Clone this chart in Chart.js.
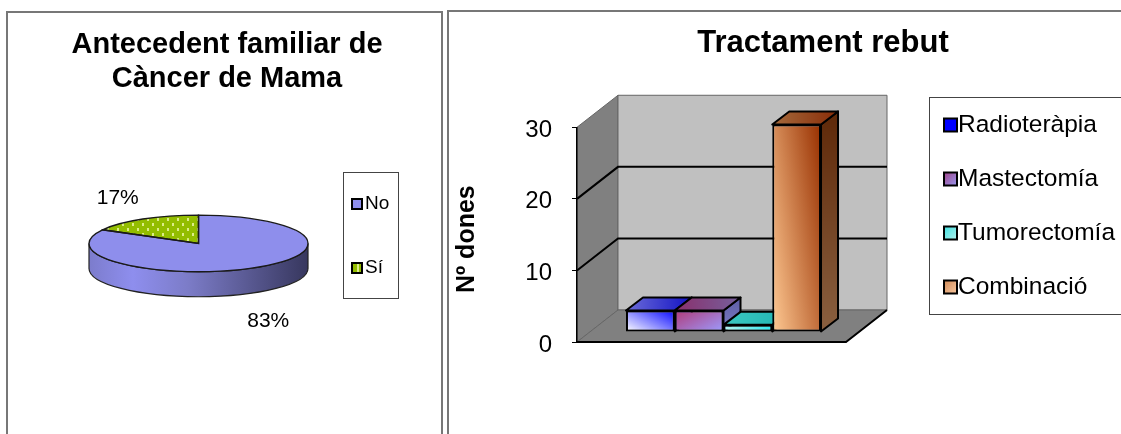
<!DOCTYPE html>
<html>
<head>
<meta charset="utf-8">
<title>Antecedent familiar i tractament rebut</title>
<script src="https://cdn.jsdelivr.net/npm/chart.js@4/dist/chart.umd.min.js"></script>
<style>
  html, body { margin: 0; padding: 0; background: #fff; overflow: hidden; }
  body { width: 1121px; height: 434px; position: relative; }
  .panel { position: absolute; box-sizing: border-box; border: 2px solid #777; border-bottom: 0; }
  #panelPie { left: 6px; top: 11px; width: 437px; height: 423px; }
  #panelBar { left: 447px; top: 10px; width: 700px; height: 424px; }
  canvas { position: absolute; top: 0; }
  #pieChart { left: 0; }
  #barChart { left: 447px; }
</style>
</head>
<body>
<div class="panel" id="panelPie"></div>
<div class="panel" id="panelBar"></div>
<canvas id="pieChart" width="445" height="434"></canvas>
<canvas id="barChart" width="674" height="434"></canvas>

<script>
// Values
const pieTitle = ['Antecedent familiar de', 'Càncer de Mama'];
const pieCategories = ['No', 'Sí'];
const pieValues = [83, 17];

const barTitle = 'Tractament rebut';
const barAxisTitle = 'Nº dones';
const barCategories = ['Dones'];
const barSeries = ['Radioteràpia', 'Mastectomía', 'Tumorectomía', 'Combinació'];
const barValues = [3, 3, 1, 29];
const barTicks = [0, 10, 20, 30];

const FONT = '"Liberation Sans", Arial, sans-serif';

// Pie look
const PIE_SQUASH = 0.2585;
const PIE_DEPTH = 25;
const PIE_LABEL_SHIFT = [[14, 53], [-25, -21]];

// Bar chart "3D" look
const WALL = { dx: 41, dy: -32 };
const BAR_SHIFT = { dx: 12, dy: -10 };
const BAR_DEPTH = { dx: 17, dy: -13 };

// gradient: from, to, and how much of the change runs along x (the rest along y)
const barFront = [
  { from: '#ffffff', to: '#0a0aff', ax: 0.55, ay: 0.45 },
  { from: '#b03a78', to: '#9c9cff', ax: 0.55, ay: -0.45 },
  { from: '#b8f4ee', to: '#30eaf2', ax: 1, ay: 0 },
  { from: '#ffca94', to: '#983000', ax: 0.62, ay: 0.38 }
];
const barTop = [['#6c6cd8', '#1212c4'], ['#8a2f6c', '#76609c'], ['#3cc8c0', '#20b4b4'], ['#a56a3c', '#882c08']];
const barSide = [['#5858b0', '#7878c0'], ['#5c5ca4', '#7c7cc4'], ['#1c9ca0', '#2cb0b0'], ['#5e2808', '#8a6040']];
const legendFill = [['#0000ff', '#0000ff'], ['#a04488', '#9898f0'], ['#40e0e0', '#b0f0ec'], ['#d08a58', '#f8c8a0']];

// Light dashes on the green slice, stretched because the pie is squashed afterwards
function makeDotPattern() {
  const c = document.createElement('canvas');
  c.width = 10;
  c.height = 40;
  const g = c.getContext('2d');
  g.fillStyle = '#93bd00';
  g.fillRect(0, 0, 10, 40);
  g.fillStyle = '#dcec88';
  g.fillRect(2, 4, 2, 12);
  g.fillRect(7, 24, 2, 12);
  return g.createPattern(c, 'repeat');
}

function placeTitle(chart, centerX) {
  const t = chart.titleBlock;
  t.left = centerX - 300;
  t.right = centerX + 300;
}

function drawLegendBox(ctx, box, names, font, markerSize, markerX, textX, centers, paint) {
  ctx.save();
  ctx.fillStyle = '#fff';
  ctx.fillRect(box.x, box.y, box.w, box.h);
  ctx.strokeStyle = '#444';
  ctx.lineWidth = 1;
  ctx.strokeRect(box.x + 0.5, box.y + 0.5, box.w, box.h);
  ctx.font = font;
  ctx.textBaseline = 'middle';
  names.forEach((name, i) => {
    const my = centers[i] - markerSize / 2;
    ctx.fillStyle = paint(i, markerX, my, markerSize);
    ctx.fillRect(markerX, my, markerSize, markerSize);
    ctx.strokeStyle = '#000';
    ctx.lineWidth = 2;
    ctx.strokeRect(markerX, my, markerSize, markerSize);
    ctx.fillStyle = '#000';
    ctx.fillText(name, textX, centers[i]);
  });
  ctx.restore();
}

// Pie: draw the library's arcs squashed into an ellipse, on top of a side wall
const flatPiePlugin = {
  id: 'flatPie',
  afterLayout(chart) {
    placeTitle(chart, 227);
  },
  beforeDatasetsDraw(chart) {
    const ctx = chart.ctx;
    const arc = chart.getDatasetMeta(0).data[0];
    const cx = arc.x, cy = arc.y, rx = arc.outerRadius, ry = rx * PIE_SQUASH;
    ctx.save();
    const side = ctx.createLinearGradient(cx - rx, 0, cx + rx, 0);
    side.addColorStop(0, '#7c7ccc');
    side.addColorStop(0.2, '#8e8eee');
    side.addColorStop(0.45, '#7c7cc8');
    side.addColorStop(1, '#37375e');
    ctx.beginPath();
    ctx.ellipse(cx, cy, rx, ry, 0, 0, Math.PI);
    ctx.ellipse(cx, cy + PIE_DEPTH, rx, ry, 0, Math.PI, 0, true);
    ctx.closePath();
    ctx.fillStyle = side;
    ctx.fill();
    ctx.strokeStyle = '#222';
    ctx.lineWidth = 1.2;
    ctx.stroke();
    ctx.translate(cx, cy);
    ctx.scale(1, PIE_SQUASH);
    ctx.translate(-cx, -cy);
  },
  afterDatasetsDraw(chart) {
    const ctx = chart.ctx;
    ctx.restore();
    ctx.save();
    ctx.strokeStyle = '#1a1a1a';
    ctx.lineWidth = 1.4;
    ctx.fillStyle = '#000';
    ctx.font = '21px ' + FONT;
    ctx.textAlign = 'center';
    ctx.textBaseline = 'middle';
    chart.getDatasetMeta(0).data.forEach((arc, i) => {
      const rx = arc.outerRadius, ry = rx * PIE_SQUASH;
      ctx.beginPath();
      ctx.moveTo(arc.x, arc.y);
      ctx.ellipse(arc.x, arc.y, rx, ry, 0, arc.startAngle, arc.endAngle);
      ctx.closePath();
      ctx.stroke();
      const mid = (arc.startAngle + arc.endAngle) / 2;
      ctx.fillText(pieValues[i] + '%',
        arc.x + Math.cos(mid) * rx + PIE_LABEL_SHIFT[i][0],
        arc.y + Math.sin(mid) * ry + PIE_LABEL_SHIFT[i][1]);
    });
    ctx.restore();
    drawLegendBox(ctx, { x: 343, y: 172, w: 55, h: 126 }, pieCategories, '19px ' + FONT, 10, 352,
      365, [204, 268], i => chart.data.datasets[0].backgroundColor[i]);
  }
};

new Chart(document.getElementById('pieChart'), {
  type: 'pie',
  data: {
    labels: pieCategories,
    datasets: [{
      data: pieValues,
      backgroundColor: ['#8e8eec', makeDotPattern()],
      borderWidth: 0
    }]
  },
  plugins: [flatPiePlugin],
  options: {
    responsive: false,
    animation: false,
    layout: { padding: { left: 89, right: 137, top: 0, bottom: 81 } },
    plugins: {
      legend: { display: false },
      tooltip: { enabled: false },
      title: {
        display: true,
        text: pieTitle,
        color: '#000',
        font: { family: FONT, size: 29, weight: 'bold', lineHeight: 1.17 },
        padding: { top: 28, bottom: 38 }
      }
    }
  }
});

function linear(ctx, x0, y0, x1, y1, colors) {
  const g = ctx.createLinearGradient(x0, y0, x1, y1);
  g.addColorStop(0, colors[0]);
  g.addColorStop(1, colors[1]);
  return g;
}

// Gradient over a bar front; ax and ay share the colour change between width and height
function frontGradient(ctx, el, spec) {
  const left = el.x - el.width / 2;
  const h = Math.abs(el.base - el.y);
  const ux = spec.ax / el.width;
  const uy = spec.ay / h;
  const len2 = ux * ux + uy * uy;
  const x0 = left;
  const y0 = spec.ay >= 0 ? el.base : el.y;
  const g = ctx.createLinearGradient(x0, y0, x0 + ux / len2, y0 - Math.abs(uy) / len2 * (spec.ay >= 0 ? 1 : -1));
  g.addColorStop(0, spec.from);
  g.addColorStop(1, spec.to);
  return g;
}

function face(ctx, points, fill) {
  ctx.beginPath();
  points.forEach((p, i) => (i ? ctx.lineTo(p[0], p[1]) : ctx.moveTo(p[0], p[1])));
  ctx.closePath();
  ctx.fillStyle = fill;
  ctx.fill();
  ctx.stroke();
}

// Walls, floor and grid of the 3D box, all taken from the scales
const boxBackdropPlugin = {
  id: 'boxBackdrop',
  afterLayout(chart) {
    placeTitle(chart, 376);
    // the axis title sits a little below the middle of the axis
    const y = chart.scales.y;
    const drawTitle = y.drawTitle;
    y.drawTitle = function () {
      this.top += 9;
      drawTitle.call(this);
      this.top -= 9;
    };
  },
  beforeDraw(chart) {
    const ctx = chart.ctx;
    const { left, right } = chart.chartArea;
    const y = chart.scales.y;
    const top = y.getPixelForValue(y.max);
    const zero = y.getPixelForValue(y.min);
    const d = WALL;
    ctx.save();
    ctx.lineWidth = 1;
    ctx.strokeStyle = '#666';
    face(ctx, [[left, top], [left + d.dx, top + d.dy], [left + d.dx, zero + d.dy], [left, zero]], '#808080');
    face(ctx, [[left + d.dx, top + d.dy], [right + d.dx, top + d.dy], [right + d.dx, zero + d.dy], [left + d.dx, zero + d.dy]], '#c0c0c0');
    face(ctx, [[left, zero], [left + d.dx, zero + d.dy], [right + d.dx, zero + d.dy], [right, zero]], '#808080');
    ctx.strokeStyle = '#000';
    ctx.lineWidth = 2;
    barTicks.forEach(tick => {
      if (tick === y.min || tick === y.max) return;
      const py = y.getPixelForValue(tick);
      ctx.beginPath();
      ctx.moveTo(left, py);
      ctx.lineTo(left + d.dx, py + d.dy);
      ctx.lineTo(right + d.dx, py + d.dy);
      ctx.stroke();
    });
    ctx.beginPath();
    ctx.moveTo(left, zero);
    ctx.lineTo(right, zero);
    ctx.lineTo(right + d.dx, zero + d.dy);
    ctx.stroke();
    ctx.restore();
  },
  beforeDatasetsDraw(chart) {
    const ctx = chart.ctx;
    ctx.save();
    ctx.translate(BAR_SHIFT.dx, BAR_SHIFT.dy);
    ctx.strokeStyle = '#000';
    ctx.lineWidth = 2;
    ctx.lineJoin = 'round';
    const d = BAR_DEPTH;
    barSeries.forEach((name, i) => {
      const el = chart.getDatasetMeta(i).data[0];
      const l = el.x - el.width / 2, r = el.x + el.width / 2;
      face(ctx, [[r, el.y], [r + d.dx, el.y + d.dy], [r + d.dx, el.base + d.dy], [r, el.base]],
        linear(ctx, 0, el.y + d.dy, 0, el.base, barSide[i]));
      face(ctx, [[l, el.y], [l + d.dx, el.y + d.dy], [r + d.dx, el.y + d.dy], [r, el.y]],
        linear(ctx, l, 0, r + d.dx, 0, barTop[i]));
      el.options = Object.assign({}, el.options, { backgroundColor: frontGradient(ctx, el, barFront[i]) });
    });
  },
  afterDatasetsDraw(chart) {
    const ctx = chart.ctx;
    ctx.restore();
    drawLegendBox(ctx, { x: 482, y: 97, w: 200, h: 217 }, barSeries, '24.5px ' + FONT, 13, 497,
      511, [125, 179, 233, 287], (i, x, y, s) => linear(ctx, x, y, x + s, y + s, legendFill[i]));
  }
};

new Chart(document.getElementById('barChart'), {
  type: 'bar',
  data: {
    labels: barCategories,
    datasets: barSeries.map((name, i) => ({
      label: name,
      data: [barValues[i]],
      backgroundColor: barFront[i].to,
      borderColor: '#000',
      borderWidth: 2,
      borderSkipped: false,
      categoryPercentage: 0.725,
      barPercentage: 1
    }))
  },
  plugins: [boxBackdropPlugin],
  options: {
    responsive: false,
    animation: false,
    layout: { padding: { left: 0, right: 275, top: 0, bottom: 92 } },
    scales: {
      x: { display: false },
      y: {
        min: barTicks[0],
        max: barTicks[barTicks.length - 1],
        afterFit(scale) { scale.width = 130; },
        ticks: {
          stepSize: 10,
          padding: 20,
          labelOffset: 3,
          color: '#000',
          font: { family: FONT, size: 24 }
        },
        grid: { drawOnChartArea: false, tickLength: 5, tickColor: '#000', lineWidth: 1 },
        border: { color: '#000', width: 1.5 },
        title: {
          display: true,
          text: barAxisTitle,
          color: '#000',
          font: { family: FONT, size: 25, weight: 'bold', lineHeight: 1.2 },
          padding: { top: 5, bottom: 0 }
        }
      }
    },
    plugins: {
      legend: { display: false },
      tooltip: { enabled: false },
      title: {
        display: true,
        text: barTitle,
        color: '#000',
        font: { family: FONT, size: 31, weight: 'bold', lineHeight: 1.17 },
        padding: { top: 25, bottom: 66 }
      }
    }
  }
});
</script>
</body>
</html>
